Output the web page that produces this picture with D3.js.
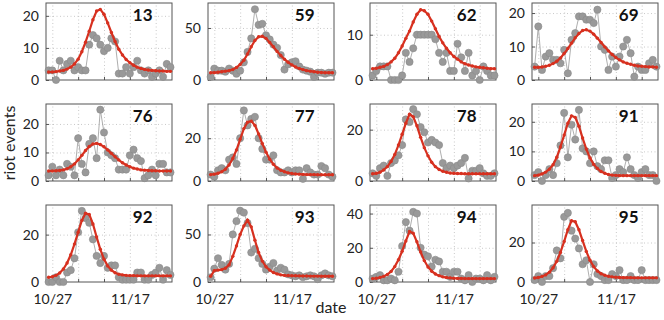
<!DOCTYPE html>
<html>
<head>
<meta charset="utf-8">
<script src="https://cdn.jsdelivr.net/npm/d3@7"></script>
<style>
  body { margin: 0; background: #fff; }
  text { font-family: Lato, "Liberation Sans", sans-serif; }
</style>
</head>
<body>
<div id="chart-container"></div>
<script>
// departments, one panel each
const regions = ["13", "59", "62", "69", "76", "77", "78", "91", "92", "93", "94", "95"];

// first observed day, 34 days in all
const firstDay = "2005-10-26";
const lastDay = "2005-11-28";
const weekTicks = ["2005-10-27", "2005-11-03", "2005-11-10", "2005-11-17", "2005-11-24"];
const labelTicks = ["2005-10-27", "2005-11-17"];

// observed riot events per day (grey)
const obs13 = [3,3,0,6,3,5,6,3,4,3,3,11,14,13,11,9,10,13,12,2,2,4,2,4,6,3,2,3,1,2,3,1,5,4];
const obs59 = [3,11,9,9,8,11,9,6,9,17,27,40,68,53,54,43,39,34,31,24,10,15,17,18,13,10,9,8,3,7,7,6,7,7];
const obs62 = [1,2,3,3,3,0,0,0,1,6,4,7,10,10,10,10,10,9,6,4,6,2,2,8,5,2,6,1,2,0,3,2,1,1];
const obs69 = [4,16,3,7,8,6,6,5,9,2,12,14,19,19,18,18,17,21,10,9,3,7,4,7,10,12,8,1,4,3,3,5,6,4];
const obs76 = [2,5,2,4,2,6,5,2,15,6,3,13,15,8,25,17,10,9,8,4,4,4,9,11,8,7,1,2,4,2,6,6,3,3];
const obs77 = [3,2,5,6,5,10,11,8,20,33,26,29,30,20,15,10,10,12,5,4,4,5,4,5,5,1,6,4,3,3,7,6,3,2];
const obs78 = [3,2,5,6,2,7,8,10,14,24,23,28,26,21,19,15,16,15,14,7,5,6,5,6,7,9,1,4,4,5,3,2,2,3];
const obs91 = [2,3,0,2,4,2,6,12,23,8,19,14,24,11,10,6,10,5,4,7,7,1,2,4,3,8,4,2,1,3,4,2,2,0];
const obs92 = [0,0,2,0,0,4,5,10,21,30,27,25,18,11,8,11,6,7,7,2,1,1,1,1,4,4,1,1,3,4,6,1,5,3];
const obs93 = [5,14,25,18,13,19,50,64,75,73,62,31,35,25,19,13,16,20,12,15,13,8,7,6,7,5,6,7,6,3,7,9,7,6];
const obs94 = [2,3,4,1,1,2,1,6,21,35,30,41,40,20,16,15,9,13,12,6,6,3,6,6,2,1,4,0,2,2,1,4,1,3];
const obs95 = [1,3,0,3,3,7,16,12,33,35,26,22,17,9,11,0,9,4,3,1,1,4,3,6,1,1,3,1,1,6,1,1,1,1];

// model fit (red)
const fit13 = [2.5,2.5,2.6,2.8,3.0,3.4,4.0,5.0,6.5,8.8,11.8,15.2,18.8,21.5,22.0,20.5,17.8,14.8,12.0,9.6,7.8,6.4,5.4,4.6,4.0,3.6,3.3,3.1,3.0,2.9,2.8,2.8,2.7,2.7];
const fit59 = [7,7,7.5,8,8.5,9,10,12,15,19,25,32,38,41.5,42,40,36,32,27.5,23.5,20,17,14.5,12.5,11,10,9,8.5,8,7.5,7.2,7,7,7];
const fit62 = [2.5,2.6,2.8,3.0,3.4,4.0,4.8,6.0,7.5,9.2,10.8,12.8,14.5,15.5,15.3,14.5,13.0,11.3,9.6,8.2,7.0,6.0,5.2,4.6,4.0,3.6,3.3,3.1,2.9,2.8,2.7,2.6,2.5,2.5];
const fit69 = [3.8,3.8,3.9,4.1,4.4,4.9,5.6,6.6,7.9,9.4,11.0,12.6,13.9,14.8,15.0,14.6,13.7,12.5,11.2,9.9,8.7,7.6,6.7,6.0,5.4,5.0,4.7,4.4,4.2,4.1,4.0,3.9,3.9,3.8];
const fit76 = [3.5,3.5,3.6,3.7,3.9,4.3,5.0,6.0,7.4,9.0,10.7,12.1,13.0,13.2,12.8,12.0,10.9,9.7,8.5,7.4,6.4,5.6,5.0,4.5,4.2,3.9,3.8,3.7,3.6,3.6,3.5,3.5,3.5,3.5];
const fit77 = [3.0,3.2,3.6,4.3,5.5,7.5,10.5,14.5,19.5,24.5,27.5,28.0,26.0,22.0,17.5,13.5,10.2,7.8,6.1,5.0,4.3,3.8,3.5,3.3,3.2,3.1,3.0,3.0,3.0,2.9,2.9,2.9,2.9,2.9];
const fit78 = [2.8,3.0,3.4,4.3,5.6,7.6,10.3,14.0,18.2,22.5,26.0,25.0,21.5,17.0,13.0,9.8,7.3,5.6,4.5,3.8,3.4,3.1,3.0,2.9,2.9,2.8,2.8,2.8,2.8,2.8,2.8,2.8,2.8,2.8];
const fit91 = [1.8,2.0,2.4,3.0,4.0,5.5,8.0,11.5,15.5,19.5,22.0,21.5,18.5,14.5,10.8,7.8,5.6,4.2,3.2,2.6,2.2,2.0,1.9,1.8,1.8,1.8,1.8,1.8,1.8,1.8,1.8,1.8,1.8,1.8];
const fit92 = [2.0,2.2,2.8,3.8,5.5,8.0,11.5,16.0,21.0,26.0,29.0,28.5,24.5,19.0,13.8,9.6,6.8,5.0,3.9,3.3,3.0,2.8,2.7,2.7,2.6,2.6,2.6,2.6,2.6,2.6,2.6,2.6,2.6,2.6];
const fit93 = [6,12,12.5,13,14.5,18,27,38,50,59,65,58,44,31,22,16,12.5,10,8.5,7.5,7,6.8,6.6,6.5,6.4,6.3,6.3,6.2,6.2,6.2,6.1,6.1,6.1,6.1];
const fit94 = [2.0,2.2,2.6,3.3,4.4,6.2,9.0,13.0,18.0,24.0,29.5,28.5,23.5,17.5,12.5,8.8,6.3,4.7,3.7,3.0,2.6,2.4,2.2,2.1,2.1,2.0,2.0,2.0,2.0,2.0,2.0,2.0,2.0,2.0];
const fit95 = [2.0,2.3,2.8,3.6,5.0,7.2,10.5,15.0,20.5,26.5,31.0,30.5,26.5,21.0,15.5,11.0,7.8,5.6,4.2,3.4,2.9,2.6,2.4,2.3,2.2,2.2,2.2,2.1,2.1,2.1,2.1,2.1,2.1,2.1];

// y axis top and tick values of each panel
const yMax = [24, 74, 17, 23, 27, 36, 30, 26, 32.5, 81, 45, 39];
const yTicks = [[0,10,20], [0,50], [0,10], [0,10,20], [0,10,20], [0,20], [0,20], [0,10,20], [0,20], [0,50], [0,20,40], [0,20]];

const observed = [obs13, obs59, obs62, obs69, obs76, obs77, obs78, obs91, obs92, obs93, obs94, obs95];
const fitted = [fit13, fit59, fit62, fit69, fit76, fit77, fit78, fit91, fit92, fit93, fit94, fit95];

const parse = d3.timeParse("%Y-%m-%d");
const days = d3.timeDay.range(parse(firstDay), d3.timeDay.offset(parse(lastDay), 1));
const weeks = weekTicks.map(parse);
const labelled = labelTicks.map(s => +parse(s));
const fmt = d3.timeFormat("%m/%d");

const panelW = 126, panelH = 77;
const left0 = 46, top0 = 3, colStep = 162, rowStep = 101;

const red = "#d7301f";

const svg = d3.select("#chart-container")
    .append("svg")
    .attr("width", 664)
    .attr("height", 320);

const x = d3.scaleTime()
    .domain([d3.timeHour.offset(days[0], -17), d3.timeHour.offset(days[days.length - 1], 10)])
    .range([0, panelW]);

regions.forEach((name, i) => {
    const col = i % 4, row = Math.floor(i / 4);
    const g = svg.append("g")
        .attr("transform", `translate(${left0 + col * colStep},${top0 + row * rowStep})`);

    const y = d3.scaleLinear()
        .domain([0, yMax[i]])
        .range([panelH, 0]);

    // dotted grid
    g.append("g")
        .attr("class", "grid")
        .attr("transform", `translate(0,${panelH})`)
        .call(d3.axisBottom(x).tickValues(weeks).tickSize(-panelH).tickFormat(""));
    g.append("g")
        .attr("class", "grid")
        .call(d3.axisLeft(y).tickValues(yTicks[i].filter(v => v > 0)).tickSize(-panelW).tickFormat(""));
    g.selectAll(".grid .domain").remove();
    g.selectAll(".grid line")
        .attr("stroke", "#bbb")
        .attr("stroke-width", 0.8)
        .attr("stroke-dasharray", "1,2.5");

    // axes with inward ticks
    const yAxis = g.append("g")
        .call(d3.axisLeft(y).tickValues(yTicks[i]).tickSize(-3).tickPadding(7));
    const xAxis = g.append("g")
        .attr("transform", `translate(0,${panelH})`)
        .call(d3.axisBottom(x).tickValues(weeks).tickSize(-3).tickPadding(12)
            .tickFormat(d => (row === 2 && labelled.includes(+d)) ? fmt(d).replace(/^0/, "") : ""));
    [yAxis, xAxis].forEach(a => {
        a.select(".domain").remove();
        a.selectAll("line").attr("stroke", "#555");
        a.selectAll("text").attr("font-size", 14).attr("fill", "#222");
    });

    // frame
    g.append("rect")
        .attr("width", panelW)
        .attr("height", panelH)
        .attr("fill", "none")
        .attr("stroke", "#555")
        .attr("stroke-width", 1);

    const obs = days.map((d, k) => ({ date: d, value: observed[i][k] }));
    const fit = days.map((d, k) => ({ date: d, value: fitted[i][k] }));

    const line = d3.line()
        .x(d => x(d.date))
        .y(d => y(d.value));

    g.append("path")
        .datum(obs)
        .attr("fill", "none")
        .attr("stroke", "#999")
        .attr("stroke-width", 0.8)
        .attr("d", line);

    g.selectAll(".obs")
        .data(obs)
        .join("circle")
        .attr("class", "obs")
        .attr("cx", d => x(d.date))
        .attr("cy", d => y(d.value))
        .attr("r", 3.6)
        .attr("fill", "#999")
        .attr("stroke", "#8a8a8a")
        .attr("stroke-width", 0.6);

    g.append("path")
        .datum(fit)
        .attr("fill", "none")
        .attr("stroke", red)
        .attr("stroke-width", 2.2)
        .attr("d", line);

    g.selectAll(".fit")
        .data(fit)
        .join("circle")
        .attr("class", "fit")
        .attr("cx", d => x(d.date))
        .attr("cy", d => y(d.value))
        .attr("r", 1.7)
        .attr("fill", red);

    g.append("text")
        .attr("x", panelW - 19.5)
        .attr("y", 17.5)
        .attr("text-anchor", "end")
        .attr("font-size", 17)
        .attr("font-weight", "bold")
        .attr("fill", "#111")
        .text(name);
});

svg.append("text")
    .attr("transform", "translate(15,143) rotate(-90)")
    .attr("text-anchor", "middle")
    .attr("font-size", 16)
    .attr("fill", "#222")
    .text("riot events");

svg.append("text")
    .attr("x", 331)
    .attr("y", 313)
    .attr("text-anchor", "middle")
    .attr("font-size", 16)
    .attr("fill", "#222")
    .text("date");
</script>
</body>
</html>
